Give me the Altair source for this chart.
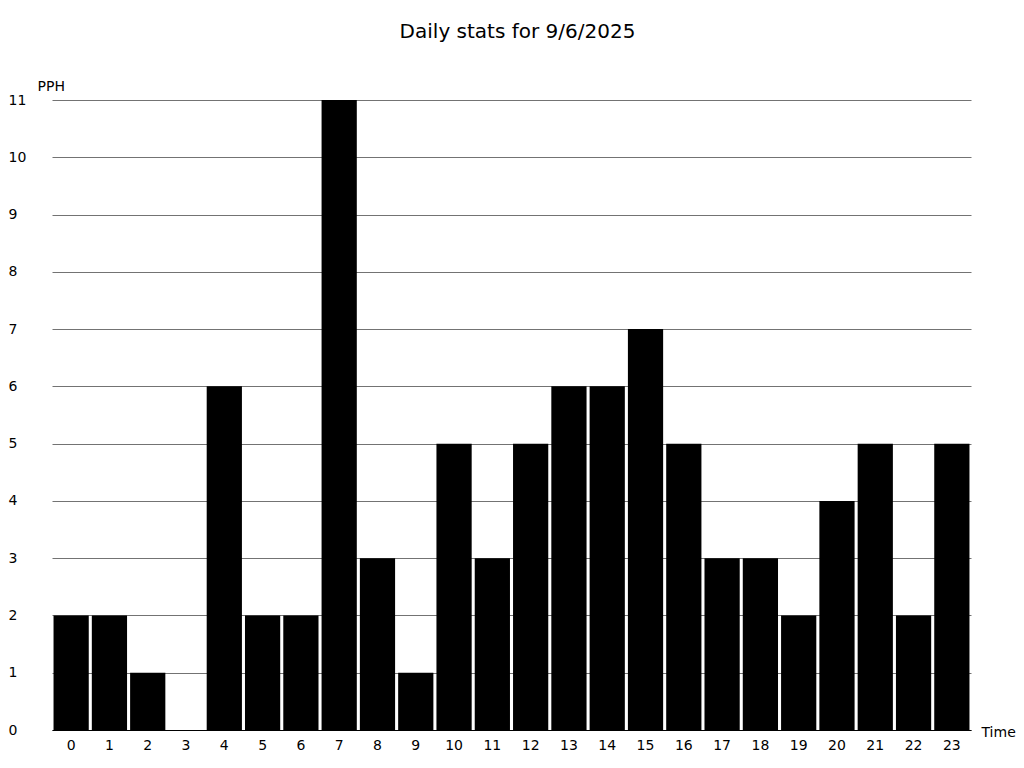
import altair as alt
import pandas as pd

hours = list(range(24))
pph = [2, 2, 1, 0, 6, 2, 2, 11, 3, 1, 5, 3, 5, 6, 6, 7, 5, 3, 3, 2, 4, 5, 2, 5]
y_ticks = list(range(12))

df = pd.DataFrame({"hour": [str(h) for h in hours], "pph": pph})

chart = alt.Chart(df, title=alt.Title(
    "Daily stats for 9/6/2025", fontSize=20, font="DejaVu Sans",
    fontWeight="normal", color="black", anchor="middle", dx=6,
    baseline="alphabetic", offset=21,
)).mark_bar(color="black").encode(
    x=alt.X("hour:N", sort=[str(h) for h in hours],
            scale=alt.Scale(paddingInner=0.08, paddingOuter=0.04),
            axis=alt.Axis(title="Time", titleAngle=0, titleAlign="left",
                          titleBaseline="alphabetic", titleX=929, titleY=6,
                          titleFontWeight="normal", titleFontSize=14,
                          labelAngle=0, labelFontSize=14, labelPadding=8,
                          ticks=False, tickSize=0, domainColor="black",
                          domainWidth=1, grid=False)),
    y=alt.Y("pph:Q", scale=alt.Scale(domain=[0, 11], nice=False),
            axis=alt.Axis(title="PPH", titleAngle=0, titleAlign="left",
                          titleBaseline="alphabetic", titleX=-15, titleY=-10,
                          titleFontWeight="normal", titleFontSize=14,
                          values=y_ticks, labelAlign="left", labelBaseline="middle",
                          labelPadding=44, labelFontSize=14, ticks=False, tickSize=0,
                          domain=False, grid=True, gridColor="black",
                          gridOpacity=0.55, gridWidth=1)),
).properties(
    width=919, height=630,
    autosize=alt.AutoSizeParams(type="none"),
    padding={"left": 44, "top": 92, "right": 45, "bottom": 24},
).configure(
    font="DejaVu Sans"
).configure_view(
    strokeWidth=0, stroke="transparent"
).configure_axis(
    labelColor="black", titleColor="black", labelFont="DejaVu Sans",
    titleFont="DejaVu Sans"
)

chart.save("out.html", embed_options={"renderer": "svg", "actions": False})
